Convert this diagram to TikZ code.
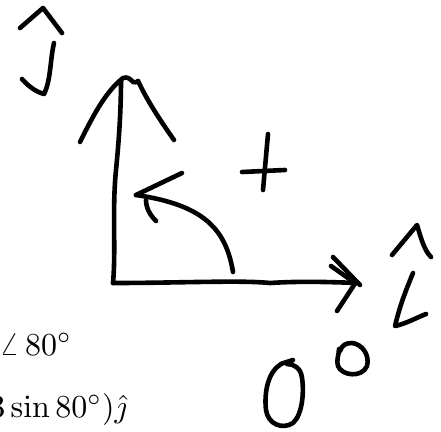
\documentclass[tikz,border=0pt]{standalone}
\usepackage{graphicx}
\usepackage{amsmath}
\begin{document}
\begin{tikzpicture}[x=1pt,y=-1pt,
  ink/.style={line width=4.6pt,line cap=round,line join=round},
  eq/.style={inner sep=0pt}]
\useasboundingbox (0,0) rectangle (441,431);
% j-hat
\draw[ink] (20,28) -- (43,8) -- (62,33);
\draw[ink] (54,43) .. controls (50,60) and (51,80) .. (44,94) .. controls (36,92) and (28,86) .. (22,79);
% vertical axis
\coordinate (O) at (113,283);
\coordinate (Ytop) at (121,80);
\draw[ink] (O) .. controls (116,250) and (112,210) .. (116,170) .. controls (119,140) and (121,110) .. (Ytop);
% y arrowhead
\draw[ink] (80,142) .. controls (92,118) and (105,92) .. (123,78) .. controls (128,76) and (131,80) .. (133,82) .. controls (135,83) and (137,82) .. (138,81);
\draw[ink] (138,81) .. controls (148,102) and (160,120) .. (174,140);
% horizontal axis
\coordinate (Xtip) at (358,283);
\draw[ink] (O) .. controls (180,283) and (240,280) .. (270,283) .. controls (300,281) and (330,282) .. (Xtip);
\draw[ink] (333,257) -- (360,285);
\draw[ink] (331,266) -- (355,283);
\draw[ink] (356,282) -- (337,311);
% rotation arrow
\draw[ink] (233,272) .. controls (226,230) and (205,205) .. (136,195);
\draw[ink] (136,195) -- (182,173);
\draw[ink] (146,200) .. controls (146,208) and (150,215) .. (156,221);
% plus
\draw[ink] (268,134) -- (263,190);
\draw[ink] (242,172) -- (285,170);
% i-hat
\draw[ink] (392,255) -- (417,225) .. controls (421,238) and (424,250) .. (431,257);
\draw[ink] (413,273) .. controls (406,290) and (400,305) .. (395,326) .. controls (405,324) and (416,318) .. (426,314);
% 0
\draw[ink] (293,360) .. controls (287,362) and (283,363) .. (281,364)
  .. controls (268,372) and (264,392) .. (266,410)
  .. controls (268,424) and (282,430) .. (293,423)
  .. controls (303,414) and (304,390) .. (302,378)
  .. controls (301,368) and (294,364) .. (287,364);
% degree
\draw[ink] (339,349) .. controls (339,355) and (336,360) .. (338,366)
  .. controls (342,376) and (362,378) .. (367,366)
  .. controls (370,355) and (362,344) .. (352,343)
  .. controls (346,343) and (342,345) .. (340,351);
% equation fragments
\node[eq,anchor=base east] (ang) at (72,355) {\scalebox{3.2}{$\angle\,80^\circ$}};
\node[eq,anchor=base east] (jc) at (127,417) {\scalebox{3.2}{$3\sin 80^\circ)\hat{\jmath}$}};
\end{tikzpicture}
\end{document}
